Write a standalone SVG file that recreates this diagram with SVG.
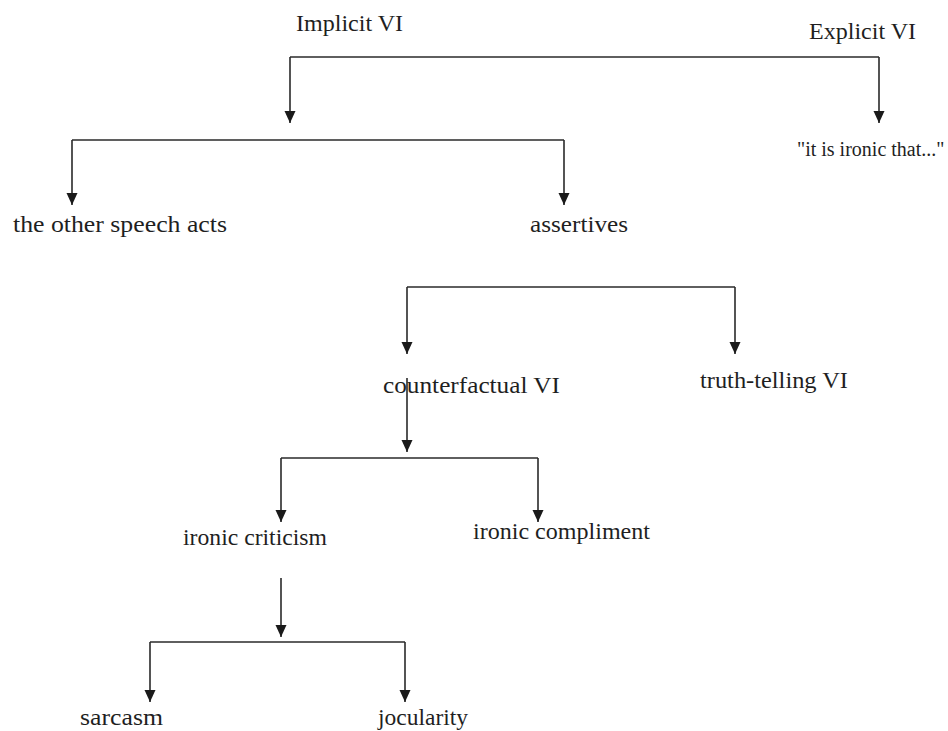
<svg xmlns="http://www.w3.org/2000/svg" width="948" height="731" viewBox="0 0 948 731">
<defs>
<marker id="ah" viewBox="0 0 12 12" refX="12" refY="6" markerWidth="12" markerHeight="12" markerUnits="userSpaceOnUse" orient="auto">
<path d="M0,0.5 L12,6 L0,11.5 Z" fill="#1a1a1a"/>
</marker>
<style>
text{font-family:"Liberation Serif","Times New Roman",serif;font-size:23px;fill:#1f1f1f;}
.q{font-size:20px}
.c{fill:none;stroke:#2a2a2a;stroke-width:1.6}
.a{marker-end:url(#ah)}
</style>
</defs>
<rect width="948" height="731" fill="#fff"/>
<g id="connectors">
<path class="c" d="M290,57 H879"/>
<path class="c a" d="M290,57 V123"/>
<path class="c a" d="M879,57 V123"/>
<path class="c" d="M72,140 H564"/>
<path class="c a" d="M72,140 V205"/>
<path class="c a" d="M564,140 V205"/>
<path class="c" d="M407,287 H735"/>
<path class="c a" d="M407,287 V354"/>
<path class="c a" d="M735,287 V354"/>
<path class="c a" d="M407,378 V452"/>
<path class="c" d="M281,458 H538"/>
<path class="c a" d="M281,458 V522"/>
<path class="c a" d="M538,458 V522"/>
<path class="c a" d="M281,578 V637"/>
<path class="c" d="M150,642 H405"/>
<path class="c a" d="M150,642 V702"/>
<path class="c a" d="M405,642 V702"/>
</g>
<g id="implicit"><text x="296" y="31" textLength="107" lengthAdjust="spacingAndGlyphs">Implicit VI</text></g>
<g id="explicit"><text x="809" y="39" textLength="107" lengthAdjust="spacingAndGlyphs">Explicit VI</text></g>
<g id="ironic-that"><text class="q" x="797" y="156">"it is ironic that..."</text></g>
<g id="other-acts"><text x="13" y="232" textLength="214" lengthAdjust="spacingAndGlyphs">the other speech acts</text></g>
<g id="assertives"><text x="530" y="232" textLength="98" lengthAdjust="spacingAndGlyphs">assertives</text></g>
<g id="counterfactual"><text x="383" y="393" textLength="177" lengthAdjust="spacingAndGlyphs">counterfactual VI</text></g>
<g id="truth-telling"><text x="700" y="388" textLength="148" lengthAdjust="spacingAndGlyphs">truth-telling VI</text></g>
<g id="criticism"><text x="183" y="545" textLength="144" lengthAdjust="spacingAndGlyphs">ironic criticism</text></g>
<g id="compliment"><text x="473" y="539" textLength="177" lengthAdjust="spacingAndGlyphs">ironic compliment</text></g>
<g id="sarcasm"><text x="80" y="725" textLength="83" lengthAdjust="spacingAndGlyphs">sarcasm</text></g>
<g id="jocularity"><text x="378" y="725" textLength="90" lengthAdjust="spacingAndGlyphs">jocularity</text></g>
</svg>
